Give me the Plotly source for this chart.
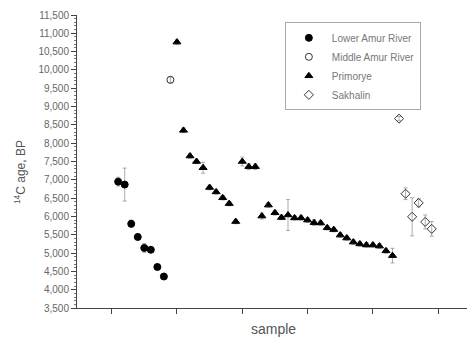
import plotly.graph_objects as go

# Lower Amur River
lar_x = [1, 2, 3, 4, 5, 6, 7, 8]
lar_y = [6950, 6870, 5800, 5440, 5140, 5090, 4620, 4360]
lar_err = [120, 450, 100, 80, 120, 60, 60, 60]

# Middle Amur River
mar_x = [9]
mar_y = [9730]
mar_err = [80]

# Primorye
pri_x = list(range(10, 44))
pri_y = [10760, 8350, 7650, 7500, 7330, 6790, 6670, 6510, 6350, 5860,
         7500, 7360, 7360, 6010, 6310, 6100, 5970, 6040, 5960, 5960,
         5900, 5830, 5820, 5690, 5640, 5490, 5410, 5300, 5250, 5220,
         5220, 5190, 5060, 4930]
pri_err = [60, 60, 60, 60, 150, 60, 60, 60, 60, 60,
           120, 80, 80, 80, 60, 60, 60, 420, 60, 60,
           60, 80, 60, 60, 60, 60, 60, 60, 60, 60,
           60, 60, 60, 200]

# Sakhalin
sak_x = [44, 45, 46, 47, 48, 49]
sak_y = [8670, 6620, 5990, 6370, 5850, 5660]
sak_err = [60, 160, 520, 110, 190, 200]

y_ticks = list(range(3500, 12000, 500))
x_ticks = [0, 10, 20, 30, 40, 50]

err_style = dict(type="data", thickness=0.7, width=2, color="#888888")

fig = go.Figure()
series = [
    ("Lower Amur River", lar_x, lar_y, lar_err, "circle", "black"),
    ("Middle Amur River", mar_x, mar_y, mar_err, "circle-open", "#333333"),
    ("Primorye", pri_x, pri_y, pri_err, "triangle-up", "black"),
    ("Sakhalin", sak_x, sak_y, sak_err, "diamond-open", "#333333"),
]
for name, xs, ys, es, sym, col in series:
    fig.add_trace(go.Scatter(
        x=xs, y=ys, mode="markers", name=name,
        marker=dict(symbol=sym, size=7, color=col,
                    line=dict(width=1, color=col)),
        error_y=dict(array=es, **err_style),
    ))

fig.update_layout(
    width=467, height=340,
    margin=dict(l=77, r=0, t=15, b=32, autoexpand=False),
    paper_bgcolor="white", plot_bgcolor="white",
    font=dict(family="Arial, Liberation Sans, sans-serif", size=10, color="#666666"),
    showlegend=True,
    legend=dict(
        x=0.533, y=0.975, xanchor="left", yanchor="top",
        bgcolor="white", bordercolor="#aaaaaa", borderwidth=1,
        font=dict(size=10, color="#777777"),
        tracegroupgap=0, itemwidth=36,
    ),
    xaxis=dict(
        range=[-5.3, 54.4], tickvals=x_ticks, ticktext=["" for _ in x_ticks],
        ticks="outside", ticklen=5, tickcolor="#444444",
        showline=True, linecolor="#444444", linewidth=1,
        showgrid=False, zeroline=False, automargin=False,
    ),
    yaxis=dict(
        range=[3500, 11500], tickvals=y_ticks,
        tickformat=",d",
        ticks="outside", ticklen=5, tickcolor="#444444",
        minor=dict(dtick=100, ticks="outside", ticklen=2, tickcolor="#777777"),
        showline=True, linecolor="#444444", linewidth=1,
        showgrid=False, zeroline=False, automargin=False,
    ),
    annotations=[
        dict(text="sample", xref="paper", yref="paper", x=0.504, y=-0.072,
             xanchor="center", yanchor="middle", showarrow=False,
             font=dict(size=14, color="#555555")),
        dict(text="<sup>14</sup>C age, BP", xref="paper", yref="paper",
             x=-0.146, y=0.464, textangle=-90, xanchor="center", yanchor="middle",
             showarrow=False, font=dict(size=12, color="#555555")),
    ],
)

fig.write_html("out.html", config={"displayModeBar": False},
               post_script="document.body.style.margin='0';")
